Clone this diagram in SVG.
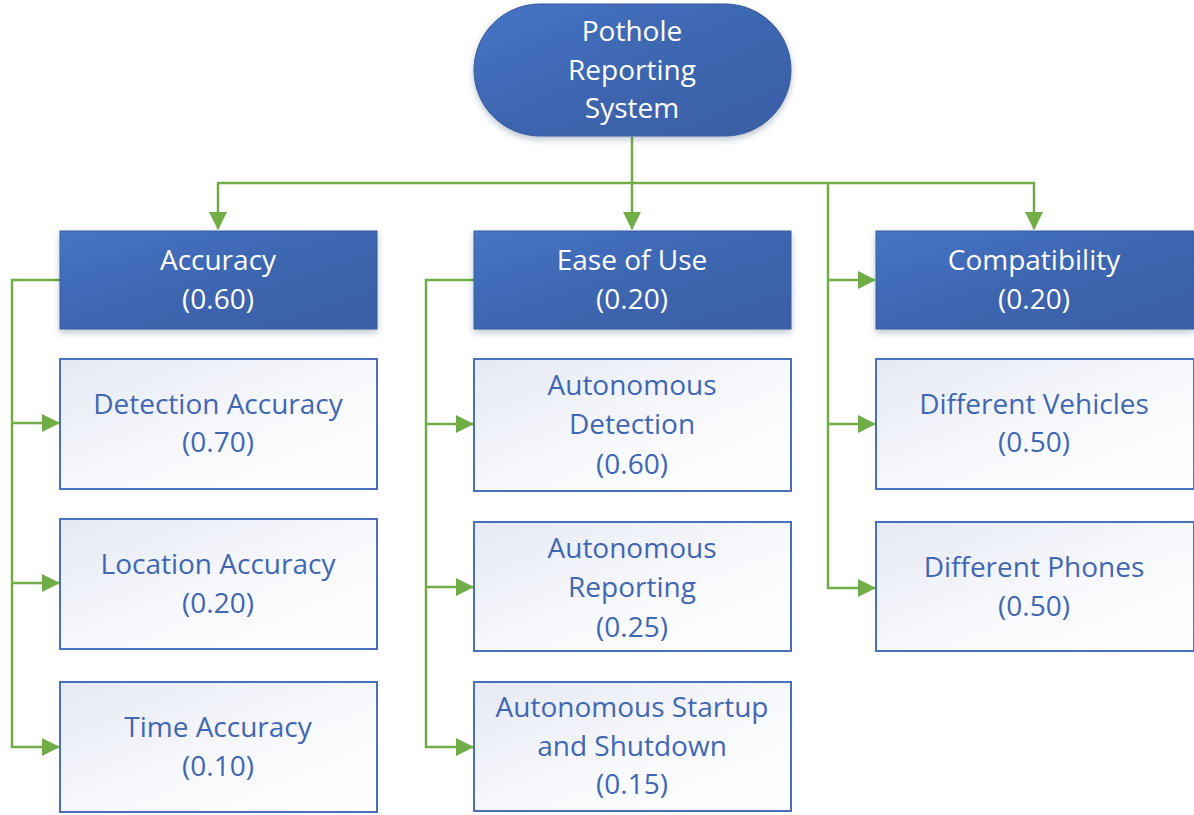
<svg xmlns="http://www.w3.org/2000/svg" width="1194" height="815" viewBox="0 0 1194 815">
<defs>
<linearGradient id="gDark" x1="0" y1="0" x2="1" y2="1">
<stop offset="0" stop-color="#4674C6"/>
<stop offset="0.5" stop-color="#3D66B0"/>
<stop offset="1" stop-color="#3A5FA6"/>
</linearGradient>
<linearGradient id="gLight" x1="0" y1="0" x2="1" y2="1">
<stop offset="0" stop-color="#E6E9F5"/>
<stop offset="0.55" stop-color="#F8F9FC"/>
<stop offset="1" stop-color="#FFFFFF"/>
</linearGradient>
<filter id="sh" x="-10%" y="-10%" width="120%" height="130%">
<feDropShadow dx="0" dy="3" stdDeviation="3" flood-color="#1F3864" flood-opacity="0.3"/>
</filter>
<marker id="arr" markerUnits="userSpaceOnUse" markerWidth="18" markerHeight="18" viewBox="0 0 18 18" refX="17" refY="9" orient="auto">
<path d="M0,0 L18,9 L0,18 Z" fill="#70AD47"/>
</marker>
</defs>
<style>
.dark{fill:url(#gDark);stroke:#3A5C9E;stroke-width:1;filter:url(#sh)}
.light{fill:url(#gLight);stroke:#4A70BC;stroke-width:2}
.tw{font-family:"Open Sans","Noto Sans",sans-serif;font-size:28px;fill:#FFFFFF;text-anchor:middle}
.tb{font-family:"Open Sans","Noto Sans",sans-serif;font-size:28px;fill:#4067B4;text-anchor:middle}
.c{fill:none;stroke:#70AD47;stroke-width:2.5}
</style>
<g id="connectors">
<path class="c" d="M632,137 L632,229" marker-end="url(#arr)"/>
<path class="c" d="M632,183 L218,183 L218,229" marker-end="url(#arr)"/>
<path class="c" d="M632,183 L1034,183 L1034,229" marker-end="url(#arr)"/>
<path class="c" d="M60,280 L12,280 L12,747 L59,747" marker-end="url(#arr)"/>
<path class="c" d="M12,423 L59,423" marker-end="url(#arr)"/>
<path class="c" d="M12,583 L59,583" marker-end="url(#arr)"/>
<path class="c" d="M474,280 L426,280 L426,747 L473,747" marker-end="url(#arr)"/>
<path class="c" d="M426,424 L473,424" marker-end="url(#arr)"/>
<path class="c" d="M426,587 L473,587" marker-end="url(#arr)"/>
<path class="c" d="M828,183 L828,588 L875,588" marker-end="url(#arr)"/>
<path class="c" d="M828,280 L875,280" marker-end="url(#arr)"/>
<path class="c" d="M828,424 L875,424" marker-end="url(#arr)"/>
</g>
<g id="root">
<rect class="dark" x="474" y="4" width="317" height="132" rx="66" ry="66"/>
<text class="tw" x="632" y="41">Pothole</text>
<text class="tw" x="632" y="80">Reporting</text>
<text class="tw" x="632" y="118">System</text>
</g>
<g id="accuracy">
<rect class="dark" x="60" y="231" width="317" height="98"/>
<text class="tw" x="218" y="270">Accuracy</text>
<text class="tw" x="218" y="309">(0.60)</text>
</g>
<g id="ease">
<rect class="dark" x="474" y="231" width="317" height="98"/>
<text class="tw" x="632" y="270">Ease of Use</text>
<text class="tw" x="632" y="309">(0.20)</text>
</g>
<g id="compat">
<rect class="dark" x="876" y="231" width="318" height="98"/>
<text class="tw" x="1034" y="270">Compatibility</text>
<text class="tw" x="1034" y="309">(0.20)</text>
</g>
<g id="detection-accuracy">
<rect class="light" x="60" y="359" width="317" height="130"/>
<text class="tb" x="218" y="414">Detection Accuracy</text>
<text class="tb" x="218" y="452">(0.70)</text>
</g>
<g id="location-accuracy">
<rect class="light" x="60" y="519" width="317" height="130"/>
<text class="tb" x="218" y="574">Location Accuracy</text>
<text class="tb" x="218" y="613">(0.20)</text>
</g>
<g id="time-accuracy">
<rect class="light" x="60" y="682" width="317" height="130"/>
<text class="tb" x="218" y="737">Time Accuracy</text>
<text class="tb" x="218" y="776">(0.10)</text>
</g>
<g id="autonomous-detection">
<rect class="light" x="474" y="359" width="317" height="132"/>
<text class="tb" x="632" y="395">Autonomous</text>
<text class="tb" x="632" y="434">Detection</text>
<text class="tb" x="632" y="474">(0.60)</text>
</g>
<g id="autonomous-reporting">
<rect class="light" x="474" y="522" width="317" height="129"/>
<text class="tb" x="632" y="558">Autonomous</text>
<text class="tb" x="632" y="597">Reporting</text>
<text class="tb" x="632" y="637">(0.25)</text>
</g>
<g id="autonomous-startup">
<rect class="light" x="474" y="682" width="317" height="129"/>
<text class="tb" x="632" y="717">Autonomous Startup</text>
<text class="tb" x="632" y="756">and Shutdown</text>
<text class="tb" x="632" y="794">(0.15)</text>
</g>
<g id="different-vehicles">
<rect class="light" x="876" y="359" width="318" height="130"/>
<text class="tb" x="1034" y="414">Different Vehicles</text>
<text class="tb" x="1034" y="452">(0.50)</text>
</g>
<g id="different-phones">
<rect class="light" x="876" y="522" width="318" height="129"/>
<text class="tb" x="1034" y="577">Different Phones</text>
<text class="tb" x="1034" y="616">(0.50)</text>
</g>
</svg>
